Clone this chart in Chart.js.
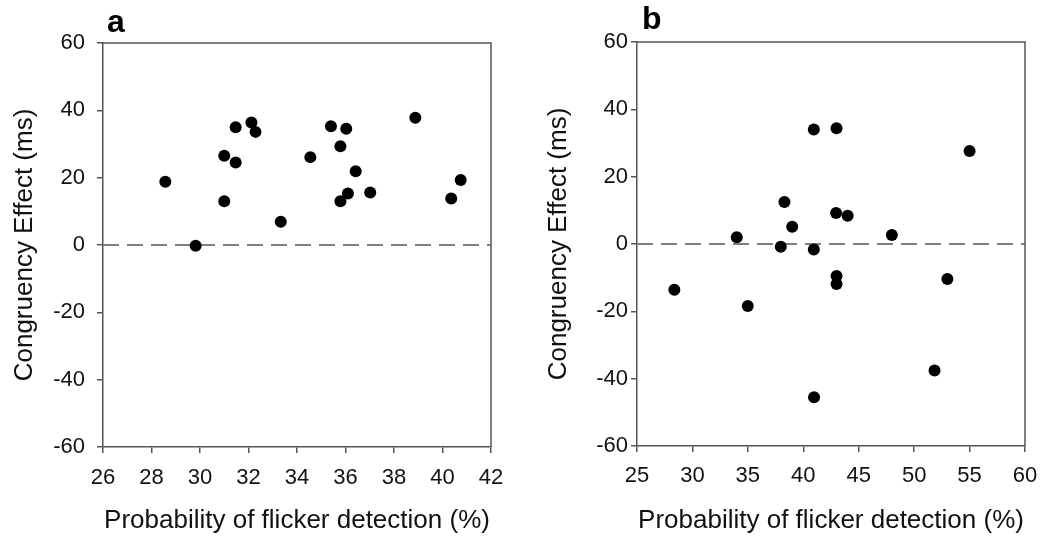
<!DOCTYPE html>
<html>
<head>
<meta charset="utf-8">
<script src="https://cdn.jsdelivr.net/npm/chart.js@4/dist/chart.umd.min.js"></script>
<style>
  html, body { margin: 0; padding: 0; background: #fff; }
  #wrap { position: relative; width: 1049px; height: 540px; }
  canvas { position: absolute; top: 0; }
</style>
</head>
<body>
<div id="wrap">
  <canvas id="ca" width="520" height="540" style="left:0px"></canvas>
  <canvas id="cb" width="529" height="540" style="left:520px"></canvas>
</div>
<script>
// ---- Data ----
const yTitle = 'Congruency Effect (ms)';
const xTitle = 'Probability of flicker detection (%)';
const yRange = [-60, 60];
const yStep = 20;

// Panel a
const xRangeA = [26, 42];
const xStepA = 2;
const detectA = [28.57, 29.82, 31.0, 31.0, 31.47, 31.47, 32.12, 32.29, 33.33, 34.55,
                 35.40, 36.03, 35.79, 36.42, 35.79, 36.10, 37.02, 38.88, 40.36, 40.75];
const effectA = [18.8, -0.2, 26.5, 13.0, 35.0, 24.5, 36.4, 33.6, 6.9, 26.1,
                 35.3, 34.5, 29.3, 21.9, 13.0, 15.3, 15.6, 37.8, 13.8, 19.3];

// Panel b
const xRangeB = [25, 60];
const xStepB = 5;
const detectB = [40.95, 43.0, 55.0, 38.3, 42.96, 44.0, 39.0, 34.0, 47.99, 37.97,
                 40.95, 43.0, 43.0, 53.0, 28.37, 34.99, 51.84, 40.97];
const effectB = [34.0, 34.4, 27.6, 12.5, 9.2, 8.4, 5.1, 2.0, 2.7, -0.8,
                 -1.6, -9.5, -11.9, -10.4, -13.6, -18.4, -37.6, -45.5];

const FONT = '"Liberation Sans", Arial, Helvetica, sans-serif';
const AXIS = '#555';

const framePlugin = {
  id: 'frame',
  afterDraw(chart, args, opts) {
    const { ctx, chartArea: a } = chart;
    ctx.save();
    ctx.strokeStyle = AXIS;
    ctx.lineWidth = 1.5;
    ctx.beginPath();
    ctx.moveTo(a.left, a.top);
    ctx.lineTo(a.right, a.top);
    ctx.lineTo(a.right, a.bottom);
    ctx.stroke();
    ctx.font = 'bold 32px ' + FONT;
    ctx.fillStyle = '#000';
    ctx.textBaseline = 'alphabetic';
    ctx.textAlign = 'left';
    ctx.fillText(opts.label, a.left + opts.dx, opts.baseline);
    ctx.restore();
  }
};

function makeChart(id, xs, ys, xRange, xStep, cfg) {
  const pts = xs.map((x, i) => ({ x: x, y: ys[i] }));
  const zero = [{ x: xRange[0], y: 0 }, { x: xRange[1], y: 0 }];
  return new Chart(document.getElementById(id), {
    type: 'scatter',
    data: {
      datasets: [
        {
          data: pts,
          backgroundColor: '#000',
          borderColor: '#000',
          pointRadius: 6,
          pointHoverRadius: 6,
          borderWidth: 0
        },
        {
          type: 'line',
          data: zero,
          borderColor: '#808080',
          borderWidth: 2,
          borderDash: [16, 8],
          pointRadius: 0,
          fill: false
        }
      ]
    },
    options: {
      responsive: false,
      animation: false,
      layout: { padding: { top: cfg.top, right: cfg.right, left: 0, bottom: 0 } },
      plugins: {
        legend: { display: false },
        tooltip: { enabled: false },
        frame: { label: cfg.label, dx: cfg.labelDx, baseline: cfg.labelBase }
      },
      scales: {
        x: {
          type: 'linear',
          min: xRange[0],
          max: xRange[1],
          ticks: { stepSize: xStep, color: '#111', font: { family: FONT, size: 22 }, padding: cfg.xPad, maxRotation: 0 },
          grid: { drawOnChartArea: false, drawTicks: true, tickLength: 6, color: AXIS, lineWidth: 1.5 },
          border: { display: true, color: AXIS, width: 1.5 },
          title: { display: true, text: xTitle, color: '#111', font: { family: FONT, size: 26 }, padding: { top: 0, bottom: 4 } },
          afterFit(scale) { scale.height = cfg.xH; }
        },
        y: {
          type: 'linear',
          min: yRange[0],
          max: yRange[1],
          ticks: { stepSize: yStep, color: '#111', font: { family: FONT, size: 22 }, padding: cfg.yPad },
          grid: { drawOnChartArea: false, drawTicks: true, tickLength: 6, color: AXIS, lineWidth: 1.5 },
          border: { display: true, color: AXIS, width: 1.5 },
          title: { display: true, text: yTitle, color: '#111', font: { family: FONT, size: 26 }, padding: { top: cfg.yTitlePad, bottom: 0 } },
          afterFit(scale) { scale.width = cfg.yW; }
        }
      }
    },
    plugins: [framePlugin]
  });
}

makeChart('ca', detectA, effectA, xRangeA, xStepA,
  { top: 43, right: 29, xH: 93, yW: 103, xPad: 12, yPad: 12, yTitlePad: 9.4, label: 'a', labelDx: 4, labelBase: 32 });
makeChart('cb', detectB, effectB, xRangeB, xStepB,
  { top: 42, right: 24, xH: 94, yW: 117, xPad: 11, yPad: 3, yTitlePad: 23.4, label: 'b', labelDx: 5, labelBase: 29 });
</script>
</body>
</html>
